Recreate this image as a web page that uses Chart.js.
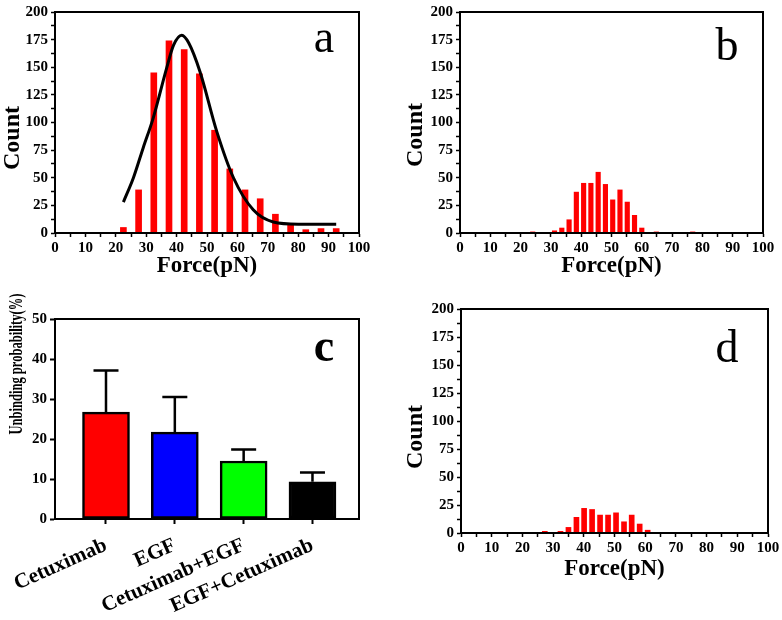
<!DOCTYPE html>
<html>
<head>
<meta charset="utf-8">
<script src="https://cdn.jsdelivr.net/npm/chart.js@4.4.1/dist/chart.umd.min.js"></script>
<style>
  body { margin: 0; background: #fff; }
  #wrap { position: relative; width: 782px; height: 620px; }
  canvas { position: absolute; }
</style>
</head>
<body>
<div id="wrap">
  <canvas id="chartA" width="391" height="280" style="left:0;top:0"></canvas>
  <canvas id="chartB" width="391" height="280" style="left:391px;top:0"></canvas>
  <canvas id="chartC" width="391" height="340" style="left:0;top:280px"></canvas>
  <canvas id="chartD" width="391" height="340" style="left:391px;top:280px"></canvas>
</div>
<script>
// panel a - histogram + fit
const forceA = [22.5, 27.5, 32.5, 37.5, 42.5, 47.5, 52.5, 57.5, 62.5, 67.5, 72.5, 77.5, 82.5, 87.5, 92.5];
const countA = [5, 39, 145, 174, 166, 144, 93, 58, 39, 31, 17, 8, 3, 4, 4];
const fitForceA = [22.5, 25.8, 29, 32.3, 36.7, 39, 41.7, 44, 47.7, 53.2, 58.7, 65.2, 71.8, 80, 92.5];
const fitCountA = [28, 50, 77, 104, 149, 170, 179, 172, 146, 92, 50, 21, 10, 8, 8];

// panel b
const forceB = [24, 31.2, 33.6, 36, 38.4, 40.8, 43.2, 45.6, 48, 50.4, 52.8, 55.2, 57.6, 60, 64.8, 76.8];
const countB = [1, 2, 4.5, 12, 37, 45, 45, 55, 44, 30, 39, 28, 16, 4.5, 1, 1];

// panel c - unbinding probability
const groups = ['Cetuximab', 'EGF', 'Cetuximab+EGF', 'EGF+Cetuximab'];
const probability = [26.7, 21.7, 14.5, 9.3];
const errorUp = [10.4, 8.8, 2.9, 2.3];

// panel d
const forceD = [27.3, 32.4, 35, 37.6, 40.1, 42.7, 45.3, 47.9, 50.5, 53.1, 55.6, 58.2, 60.8];
const countD = [1.5, 1.5, 5, 14, 22, 21, 16, 16, 18, 10, 16, 8, 2.5];

const FONT = '"Liberation Serif", "Times New Roman", serif';
const tickFont = { family: FONT, size: 15, weight: 'bold' };
const titleFont = { family: FONT, size: 23, weight: 'bold' };

// box around plot, panel letter, y title
const frame = {
    id: 'frame',
    afterDraw(chart, args, opts) {
        const { ctx, chartArea: a } = chart;
        ctx.save();
        ctx.strokeStyle = '#000';
        ctx.lineWidth = 2;
        ctx.strokeRect(a.left, a.top, a.right - a.left, a.bottom - a.top);
        ctx.fillStyle = '#000';
        ctx.textAlign = 'center';
        ctx.font = (opts.bold ? 'bold ' : '') + '46px ' + FONT;
        ctx.fillText(opts.letter, opts.lx, opts.ly);
        ctx.translate(opts.tx, opts.ty);
        ctx.rotate(-Math.PI / 2);
        ctx.scale(opts.squeeze || 1, 1);
        ctx.textBaseline = 'middle';
        ctx.font = 'bold ' + opts.tsize + 'px ' + FONT;
        ctx.fillText(opts.title, 0, 0);
        ctx.restore();
    }
};

function histogram(id, force, count, o) {
    const datasets = [{
        type: 'bar',
        data: force.map((x, i) => ({ x, y: count[i] })),
        backgroundColor: '#ff0000',
        barThickness: o.bar,
        order: 1,
    }];
    if (o.fitX) {
        datasets.push({
            type: 'line',
            data: o.fitX.map((x, i) => ({ x, y: o.fitY[i] })),
            borderColor: '#000',
            borderWidth: 3,
            pointRadius: 0,
            cubicInterpolationMode: 'monotone',
            order: 0,
        });
    }
    return new Chart(document.getElementById(id), {
        type: 'bar',
        data: { datasets },
        plugins: [frame],
        options: {
            responsive: false,
            animation: false,
            layout: { padding: o.pad },
            plugins: {
                legend: { display: false },
                tooltip: { enabled: false },
                frame: { letter: o.letter, lx: o.lx, ly: o.ly, title: 'Count', tx: o.tx, ty: o.ty, tsize: 24 },
            },
            scales: {
                x: {
                    type: 'linear', min: 0, max: 100, offset: false,
                    afterFit: (s) => { s.height = o.xh; },
                    ticks: {
                        stepSize: 5, autoSkip: false, maxRotation: 0, padding: 2,
                        color: '#000', font: tickFont,
                        callback: (v) => (v % 10 === 0 ? v : ''),
                    },
                    grid: { offset: false, drawOnChartArea: false, tickLength: 4, tickColor: '#000', tickWidth: 1.5 },
                    border: { color: '#000', width: 2 },
                    title: { display: true, text: 'Force(pN)', color: '#000', font: titleFont, padding: 0 },
                },
                y: {
                    min: 0, max: 200,
                    afterFit: (s) => { s.width = o.yw; },
                    ticks: {
                        stepSize: 12.5, autoSkip: false, padding: 3,
                        color: '#000', font: tickFont,
                        callback: (v) => (v % 25 === 0 ? v : ''),
                    },
                    grid: { drawOnChartArea: false, tickLength: 4, tickColor: '#000', tickWidth: 1.5 },
                    border: { color: '#000', width: 2 },
                },
            },
        },
    });
}

histogram('chartA', forceA, countA, {
    bar: 6, fitX: fitForceA, fitY: fitCountA,
    pad: { left: 0, right: 32, top: 10, bottom: 0 }, yw: 55, xh: 47,
    letter: 'a', lx: 324, ly: 52, tx: 13, ty: 138,
});
histogram('chartB', forceB, countB, {
    bar: 4.5,
    pad: { left: 12, right: 19, top: 9, bottom: 0 }, yw: 57, xh: 47,
    letter: 'b', lx: 336, ly: 60, tx: 25, ty: 135,
});
histogram('chartD', forceD, countD, {
    bar: 5,
    pad: { left: 12, right: 14, top: 29, bottom: 37 }, yw: 58, xh: 50,
    letter: 'd', lx: 336, ly: 82, tx: 25, ty: 157,
});

// error bars (upper only)
const errorBars = {
    id: 'errorBars',
    afterDatasetsDraw(chart) {
        const { ctx, scales: { x, y } } = chart;
        ctx.save();
        ctx.strokeStyle = '#000';
        ctx.lineWidth = 2.5;
        probability.forEach((p, i) => {
            const px = x.getPixelForValue(i + 1);
            const y0 = y.getPixelForValue(p);
            const y1 = y.getPixelForValue(p + errorUp[i]);
            ctx.beginPath();
            ctx.moveTo(px, y0);
            ctx.lineTo(px, y1);
            ctx.moveTo(px - 12.5, y1);
            ctx.lineTo(px + 12.5, y1);
            ctx.stroke();
        });
        ctx.restore();
    }
};

new Chart(document.getElementById('chartC'), {
    type: 'bar',
    data: {
        datasets: [{
            data: probability.map((v, i) => ({ x: i + 1, y: v })),
            backgroundColor: ['#ff0000', '#0000ff', '#00ff00', '#000000'],
            borderColor: '#000',
            borderWidth: 2.5,
            borderSkipped: false,
            barThickness: 47,
        }],
    },
    plugins: [errorBars, frame],
    options: {
        responsive: false,
        animation: false,
        layout: { padding: { left: 8, right: 32, top: 39, bottom: 0 } },
        plugins: {
            legend: { display: false },
            tooltip: { enabled: false },
            frame: { letter: 'c', bold: true, lx: 324, ly: 81, title: 'Unbinding probability(%)', tx: 17, ty: 84, tsize: 19, squeeze: 0.66 },
        },
        scales: {
            x: {
                type: 'linear', min: 0.259, max: 4.676, offset: false,
                afterFit: (s) => { s.height = 101; s.paddingLeft = 0; s.paddingRight = 0; },
                afterBuildTicks: (s) => { s.ticks = [1, 2, 3, 4].map((v) => ({ value: v })); },
                ticks: {
                    autoSkip: false, minRotation: 24, maxRotation: 24, padding: 9,
                    color: '#000', font: { family: FONT, size: 21, weight: 'bold' },
                    callback: (v) => groups[v - 1],
                },
                grid: { offset: false, drawOnChartArea: false, tickLength: 5, tickColor: '#000', tickWidth: 2 },
                border: { color: '#000', width: 2 },
            },
            y: {
                min: 0, max: 50,
                afterFit: (s) => { s.width = 47; },
                ticks: { stepSize: 10, padding: 3, color: '#000', font: tickFont },
                grid: { drawOnChartArea: false, tickLength: 5, tickColor: '#000', tickWidth: 2 },
                border: { color: '#000', width: 2 },
            },
        },
    },
});
</script>
</body>
</html>
